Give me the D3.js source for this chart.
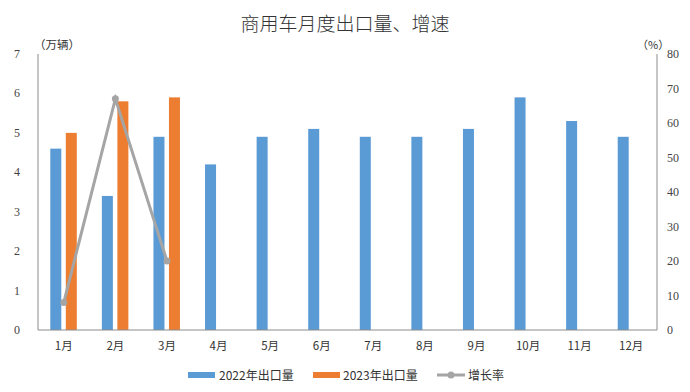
<!DOCTYPE html>
<html><head><meta charset="utf-8">
<script src="https://cdn.jsdelivr.net/npm/d3@7"></script>
<style>
body{margin:0;background:#fff;}
text{font-family:"Liberation Serif","Noto Sans CJK SC",serif;}
.cjk{font-family:"Noto Sans CJK SC",sans-serif;}
</style></head>
<body><svg id="c" width="690" height="392"></svg>
<script>
const months = ["1月","2月","3月","4月","5月","6月","7月","8月","9月","10月","11月","12月"];
const export2022 = [4.6,3.4,4.9,4.2,4.9,5.1,4.9,4.9,5.1,5.9,5.3,4.9];
const export2023 = [5.0,5.8,5.9];
const growth = [8,67,20];
const leftTicks = [0,1,2,3,4,5,6,7];
const rightTicks = [0,10,20,30,40,50,60,70,80];

const svg = d3.select("#c");
const m = {l:38, r:657, t:54, b:330};
const x = d3.scaleBand().domain(months).range([m.l, m.r]);
const yL = d3.scaleLinear().domain([0,7]).range([m.b, m.t]);
const yR = d3.scaleLinear().domain([0,80]).range([m.b, m.t]);
const blue="#5b9bd5", orange="#ed7d31", gray="#a5a5a5", axisC="#8c8c8c";

svg.append("text").attr("class","cjk").attr("x",345).attr("y",31).attr("text-anchor","middle")
  .attr("font-size",19).attr("fill","#333").attr("font-weight",300).text("商用车月度出口量、增速");

// bars
const bw = 11;
svg.append("g").selectAll("rect").data(export2022).join("rect")
  .attr("x",(d,i)=>x(months[i])+x.bandwidth()/2-bw-2.5).attr("width",bw)
  .attr("y",d=>yL(d)).attr("height",d=>yL(0)-yL(d)).attr("fill",blue);
svg.append("g").selectAll("rect").data(export2023).join("rect")
  .attr("x",(d,i)=>x(months[i])+x.bandwidth()/2+2).attr("width",bw)
  .attr("y",d=>yL(d)).attr("height",d=>yL(0)-yL(d)).attr("fill",orange);

// axes lines
svg.append("line").attr("x1",m.l).attr("x2",m.l).attr("y1",m.t).attr("y2",m.b).attr("stroke",axisC);
svg.append("line").attr("x1",m.r).attr("x2",m.r).attr("y1",m.t).attr("y2",m.b).attr("stroke",axisC);
svg.append("line").attr("x1",m.l).attr("x2",m.r).attr("y1",m.b).attr("y2",m.b).attr("stroke",axisC);

// left ticks
svg.append("g").selectAll("text").data(leftTicks).join("text")
  .attr("x",17).attr("y",d=>yL(d)+4).attr("text-anchor","middle").attr("font-size",12).attr("fill","#444").text(d=>d);
svg.append("g").selectAll("text").data(rightTicks).join("text")
  .attr("x",667).attr("y",d=>yR(d)+4).attr("text-anchor","start").attr("font-size",12).attr("fill","#444").text(d=>d);
svg.append("g").selectAll("text").data(months).join("text").attr("class","cjk")
  .attr("x",d=>x(d)+x.bandwidth()/2).attr("y",350).attr("text-anchor","middle").attr("font-size",11.5).attr("fill","#333").text(d=>d);

svg.append("text").attr("class","cjk").attr("x",34).attr("y",49).attr("font-size",11.5).attr("fill","#333").text("（万辆）");
svg.append("text").attr("class","cjk").attr("x",637).attr("y",49).attr("font-size",11).attr("fill","#333").text("（%）");

// line
const line = d3.line().x((d,i)=>x(months[i])+x.bandwidth()/2).y(d=>yR(d));
svg.append("path").datum(growth).attr("d",line).attr("fill","none").attr("stroke",gray).attr("stroke-width",3);
svg.append("g").selectAll("circle").data(growth).join("circle")
  .attr("cx",(d,i)=>x(months[i])+x.bandwidth()/2).attr("cy",d=>yR(d)).attr("r",3.5).attr("fill",gray);

// legend
const lg = svg.append("g");
const ly = 375;
lg.append("rect").attr("x",188).attr("y",ly-3).attr("width",27).attr("height",6).attr("fill",blue);
lg.append("text").attr("class","cjk").attr("x",219).attr("y",ly+4.5).attr("font-size",12).attr("fill","#333").text("2022年出口量");
lg.append("rect").attr("x",313).attr("y",ly-3).attr("width",27).attr("height",6).attr("fill",orange);
lg.append("text").attr("class","cjk").attr("x",343).attr("y",ly+4.5).attr("font-size",12).attr("fill","#333").text("2023年出口量");
lg.append("line").attr("x1",437).attr("x2",465).attr("y1",ly).attr("y2",ly).attr("stroke",gray).attr("stroke-width",3);
lg.append("circle").attr("cx",451).attr("cy",ly).attr("r",3.5).attr("fill",gray);
lg.append("text").attr("class","cjk").attr("x",468).attr("y",ly+4.5).attr("font-size",12).attr("fill","#333").text("增长率");
</script></body></html>
